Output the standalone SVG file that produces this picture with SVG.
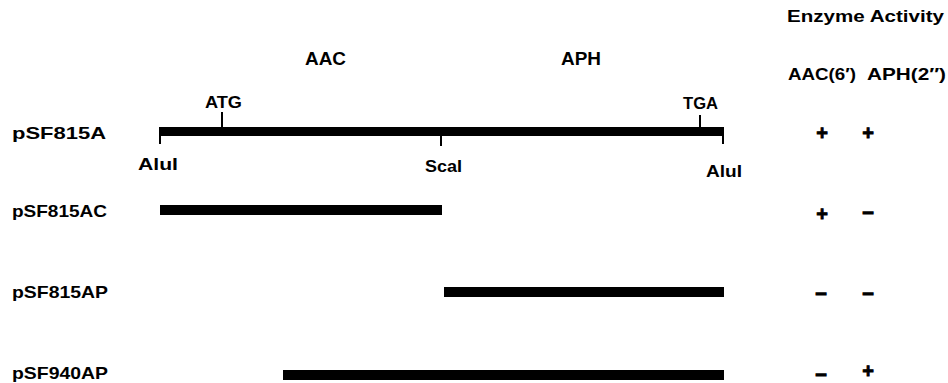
<svg xmlns="http://www.w3.org/2000/svg" width="948" height="383" viewBox="0 0 948 383">
<style>
text{font-family:"Liberation Sans",Arial,sans-serif;font-weight:bold;font-size:16px;fill:#000}
.lbl{font-size:17px}
.big{font-size:17px}
.bar{fill:#000}
.tick{stroke:#000;stroke-width:2;fill:none}
.sign{font-size:20px;text-anchor:middle;stroke:#000;stroke-width:0.8}
.minus{font-size:20px;text-anchor:middle;stroke:#000;stroke-width:1.2}
</style>
<rect width="948" height="383" fill="#fff"/>
<g id="header">
<text x="787" y="22" class="big" textLength="157" lengthAdjust="spacingAndGlyphs">Enzyme Activity</text>
<text x="788" y="80" class="big" textLength="68" lengthAdjust="spacingAndGlyphs">AAC(6′)</text>
<text x="867" y="80" class="big" textLength="79" lengthAdjust="spacingAndGlyphs">APH(2′′)</text>
<text x="305" y="65" class="big" style="font-size:18px" textLength="41" lengthAdjust="spacingAndGlyphs">AAC</text>
<text x="561" y="65" class="big" style="font-size:18px" textLength="40" lengthAdjust="spacingAndGlyphs">APH</text>
</g>
<g id="pSF815A">
<text x="12" y="139" class="lbl" textLength="94" lengthAdjust="spacingAndGlyphs">pSF815A</text>
<rect class="bar" x="159" y="127" width="565" height="9"/>
<path class="tick" d="M160 131V144M723 131V144M222 128V112M441 134V146M700 128V115"/>
<text x="205" y="108" textLength="37" lengthAdjust="spacingAndGlyphs">ATG</text>
<text x="683" y="109" textLength="35" lengthAdjust="spacingAndGlyphs">TGA</text>
<text x="138" y="170" textLength="40" lengthAdjust="spacingAndGlyphs">AluI</text>
<text x="425" y="172" textLength="37" lengthAdjust="spacingAndGlyphs">ScaI</text>
<text x="706" y="177" textLength="36" lengthAdjust="spacingAndGlyphs">AluI</text>
<text x="822" y="140" class="sign">+</text>
<text x="868" y="140" class="sign">+</text>
</g>
<g id="pSF815AC">
<text x="12" y="217" class="lbl" textLength="95" lengthAdjust="spacingAndGlyphs">pSF815AC</text>
<rect class="bar" x="160" y="205" width="282" height="10"/>
<text x="822" y="221" class="sign">+</text>
<text x="868" y="218" class="minus">–</text>
</g>
<g id="pSF815AP">
<text x="12" y="298" class="lbl" textLength="96" lengthAdjust="spacingAndGlyphs">pSF815AP</text>
<rect class="bar" x="444" y="287" width="280" height="10"/>
<text x="821" y="299" class="minus">–</text>
<text x="868" y="299" class="minus">–</text>
</g>
<g id="pSF940AP">
<text x="12" y="379" class="lbl" textLength="96" lengthAdjust="spacingAndGlyphs">pSF940AP</text>
<rect class="bar" x="283" y="370" width="441" height="10"/>
<text x="821" y="380" class="minus">–</text>
<text x="868" y="378" class="sign">+</text>
</g>
<g id="connectors"></g>
</svg>
